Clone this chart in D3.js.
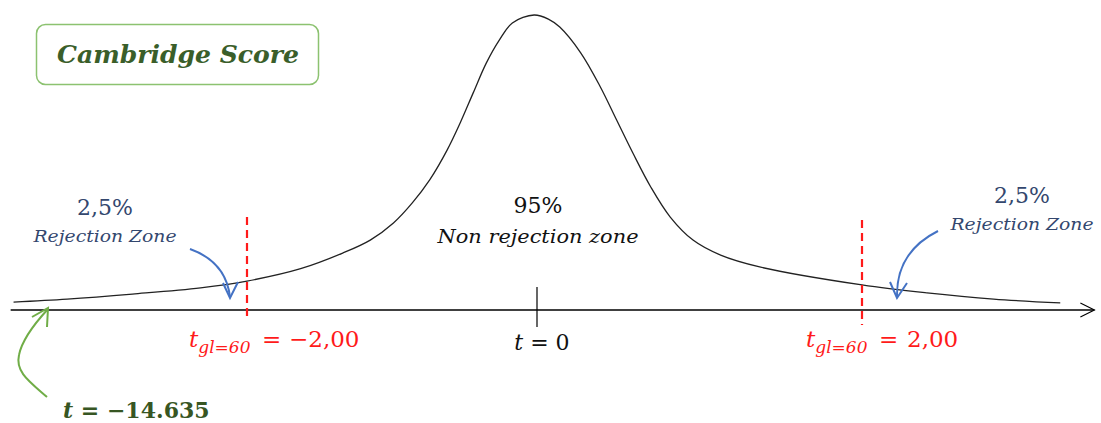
<!DOCTYPE html>
<html>
<head>
<meta charset="utf-8">
<script src="https://cdn.jsdelivr.net/npm/d3@7"></script>
<style>
  body { margin: 0; background: #fff; }
  text { font-family: "DejaVu Serif", serif; }
</style>
</head>
<body>
<div id="chart"></div>
<script>
var width = 1101,
  height = 423;

// bell curve: t value and relative height (peak = 1)
var curveT = [-3.61, -3.24, -2.79, -2.32, -2.0, -1.63, -1.34, -1.15, -0.99, -0.86, -0.74, -0.62, -0.53, -0.44, -0.35, -0.26, -0.17, -0.02,
  0.07, 0.14, 0.27, 0.39, 0.49, 0.59, 0.70, 0.82, 0.96, 1.13, 1.37, 2.0, 2.4, 2.81, 3.22];
var curveDensity = [0.027, 0.037, 0.054, 0.075, 0.098, 0.140, 0.193, 0.237, 0.295, 0.363, 0.441, 0.542, 0.634, 0.736, 0.837, 0.915, 0.973, 1.0,
  0.986, 0.959, 0.871, 0.756, 0.644, 0.532, 0.417, 0.315, 0.237, 0.186, 0.146, 0.085, 0.058, 0.037, 0.024];

var axisExtent = [-3.63, 3.43];
var criticalT = [-2, 2];
var criticalLabels = ["\u22122,00", "2,00"];
var criticalSub = "gl=60";
var zoneShares = ["2,5%", "95%", "2,5%"];
var zoneNames = ["Rejection Zone", "Non rejection zone", "Rejection Zone"];
var centerLabel = "0";
var observedLabel = "\u221214.635";
var title = "Cambridge Score";

var mydata = curveT.map(function (t, i) { return { t: t, d: curveDensity[i] }; });

// the drawing is hand made: left and right halves are not the same width
let xScale = d3.scaleLinear()
  .domain([-2, 0, 2])
  .range([247, 537, 862]);

let yScale = d3.scaleLinear()
  .domain([0, 1])
  .range([310, 15]);

var svg = d3.select("#chart").append("svg")
  .attr("width", width)
  .attr("height", height)
  .append("g");

// title box
svg.append("rect")
  .attr("x", 36.5).attr("y", 24.5)
  .attr("width", 282).attr("height", 60)
  .attr("rx", 9)
  .attr("fill", "#fff")
  .attr("stroke", "#8cc270")
  .attr("stroke-width", 1.5);
svg.append("text")
  .attr("x", 178).attr("y", 63)
  .attr("text-anchor", "middle")
  .attr("font-size", 24)
  .attr("font-weight", "bold")
  .attr("font-style", "italic")
  .attr("fill", "#3a5e2a")
  .attr("textLength", 242)
  .attr("lengthAdjust", "spacingAndGlyphs")
  .text(title);

// horizontal axis with arrow
var y0 = yScale(0);
var xEnd = xScale(axisExtent[1]);
svg.append("line")
  .attr("x1", xScale(axisExtent[0])).attr("x2", xEnd)
  .attr("y1", y0).attr("y2", y0)
  .attr("stroke", "#000").attr("stroke-width", 1.5);
svg.append("path")
  .attr("d", "M" + (xEnd - 14) + "," + (y0 - 7) + "L" + xEnd + "," + y0 + "L" + (xEnd - 14) + "," + (y0 + 7))
  .attr("fill", "none").attr("stroke", "#000").attr("stroke-width", 1.2);

// tick at t = 0
svg.append("line")
  .attr("x1", xScale(0)).attr("x2", xScale(0))
  .attr("y1", y0 - 23).attr("y2", y0 + 17)
  .attr("stroke", "#000").attr("stroke-width", 1.2);

// the curve
svg.append("path")
  .datum(mydata)
  .attr("d", d3.line()
    .x(function (d) { return xScale(d.t); })
    .y(function (d) { return yScale(d.d); })
    .curve(d3.curveCatmullRom.alpha(0.5)))
  .attr("fill", "none")
  .attr("stroke", "#222")
  .attr("stroke-width", 1.3);

// critical values
svg.selectAll(".crit")
  .data(criticalT)
  .enter()
  .append("line")
  .attr("class", "crit")
  .attr("x1", function (d) { return xScale(d); })
  .attr("x2", function (d) { return xScale(d); })
  .attr("y1", function (d, i) { return i == 0 ? 217 : 220; })
  .attr("y2", function (d, i) { return i == 0 ? 320 : 325; })
  .attr("stroke", "#ff1a1a")
  .attr("stroke-width", 2.2)
  .attr("stroke-dasharray", "8,5");

var critText = svg.selectAll(".critlabel")
  .data(criticalT)
  .enter()
  .append("text")
  .attr("class", "critlabel")
  .attr("y", 347)
  .attr("font-size", 23)
  .attr("fill", "#ff1a1a");
critText.append("tspan")
  .attr("x", function (d, i) { return xScale(d) + (i == 0 ? -58 : -56); })
  .attr("font-style", "italic").text("t");
critText.append("tspan")
  .attr("font-style", "italic").attr("font-size", 17).attr("dy", 6).text(criticalSub);
critText.append("tspan")
  .attr("x", function (d, i) { return xScale(d) + (i == 0 ? 15 : 17); })
  .attr("dy", -6).text("=");
critText.append("tspan")
  .attr("x", function (d, i) { return xScale(d) + (i == 0 ? 42 : 45); })
  .text(function (d, i) { return criticalLabels[i]; });

// t = 0 label
var zeroText = svg.append("text")
  .attr("x", xScale(0) + 5).attr("y", 350)
  .attr("text-anchor", "middle")
  .attr("font-size", 22)
  .attr("fill", "#111");
zeroText.append("tspan").attr("font-style", "italic").text("t");
zeroText.append("tspan").text(" = " + centerLabel);

// zone labels
var zoneX = [105, 538, 1022];
var shareY = [215, 213, 203];
var nameY = [242, 243, 230];
var nameW = [143, 201, 143];
var zoneColor = ["#33476e", "#111", "#33476e"];

svg.selectAll(".share")
  .data(zoneShares)
  .enter()
  .append("text")
  .attr("class", "share")
  .attr("x", function (d, i) { return zoneX[i]; })
  .attr("y", function (d, i) { return shareY[i]; })
  .attr("text-anchor", "middle")
  .attr("font-size", 22)
  .attr("fill", function (d, i) { return zoneColor[i]; })
  .text(function (d) { return d; });

svg.selectAll(".zname")
  .data(zoneNames)
  .enter()
  .append("text")
  .attr("class", "zname")
  .attr("x", function (d, i) { return zoneX[i] - nameW[i] / 2; })
  .attr("y", function (d, i) { return nameY[i]; })
  .attr("font-size", function (d, i) { return i == 1 ? 18 : 16; })
  .attr("font-style", "italic")
  .attr("fill", function (d, i) { return zoneColor[i]; })
  .attr("textLength", function (d, i) { return nameW[i]; })
  .attr("lengthAdjust", "spacingAndGlyphs")
  .text(function (d) { return d; });

// blue arrows pointing into the tails
var blueArrows = [
  { shaft: "M190,249 Q226,262 230,297", head: "M223,283 L230,298 L238,282" },
  { shaft: "M938,231 Q896,252 897,297", head: "M890,282 L897,298 L907,283" }
];
svg.selectAll(".blue")
  .data(blueArrows)
  .enter()
  .append("g")
  .each(function (d) {
    var g = d3.select(this);
    g.append("path").attr("d", d.shaft);
    g.append("path").attr("d", d.head);
  })
  .selectAll("path")
  .attr("fill", "none")
  .attr("stroke", "#4472c4")
  .attr("stroke-width", 2);

// green arrow to the observed t
var green = svg.append("g")
  .attr("fill", "none")
  .attr("stroke", "#70ad47")
  .attr("stroke-width", 2);
green.append("path").attr("d", "M47,397 C30,382 15,372 19,355 C22,340 36,322 48,309");
green.append("path").attr("d", "M32,317 L48,308 L47,327");

var obsText = svg.append("text")
  .attr("x", 63).attr("y", 418)
  .attr("font-size", 22)
  .attr("font-weight", "bold")
  .attr("fill", "#375623");
obsText.append("tspan").attr("font-style", "italic").text("t");
obsText.append("tspan").text(" = " + observedLabel);
</script>
</body>
</html>
